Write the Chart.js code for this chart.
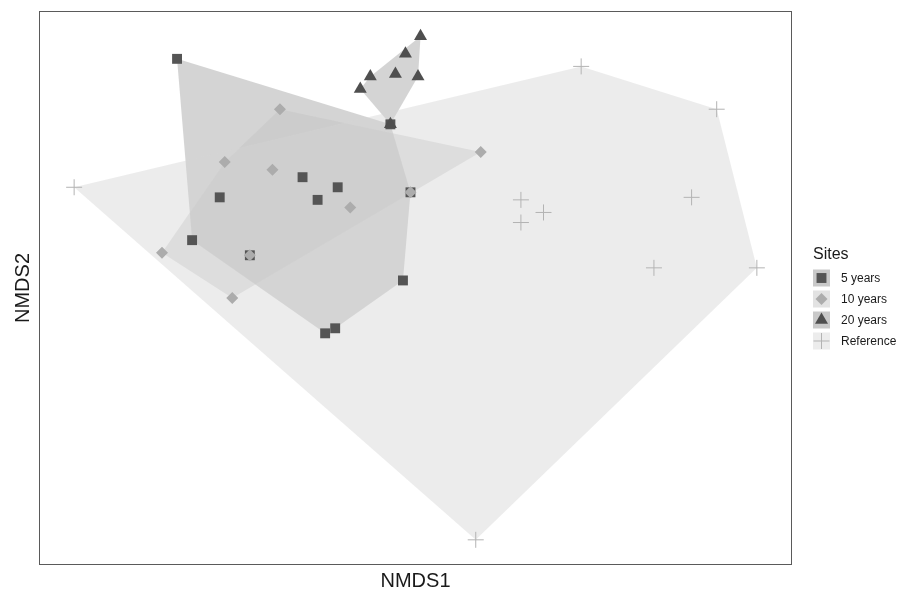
<!DOCTYPE html>
<html>
<head>
<meta charset="utf-8">
<script src="https://cdn.jsdelivr.net/npm/chart.js@4.4.1/dist/chart.umd.min.js"></script>
<style>
  html, body { margin: 0; padding: 0; background: #fff; }
  #wrap { width: 898px; height: 591px; position: relative; }
</style>
</head>
<body>
<div id="wrap"><canvas id="nmds"></canvas></div>
<script>
/* NMDS ordination of sites — points + convex hulls per group */

const siteGroups = ["5 years", "10 years", "20 years", "Reference"];

// NMDS1 / NMDS2 scores
const years5X = [-0.95, -0.78, -0.89, -0.45, -0.39, -0.31, -0.05, -0.36, -0.32, -0.66, -0.02, -0.10];
const years5Y = [0.81, 0.26, 0.09, 0.34, 0.25, 0.30, -0.07, -0.28, -0.26, 0.03, 0.28, 0.55];

const years10X = [-0.54, -0.76, -0.57, -0.26, 0.26, -1.01, -0.73, -0.66, -0.02];
const years10Y = [0.61, 0.40, 0.37, 0.22, 0.44, 0.04, -0.14, 0.03, 0.28];

const years20X = [0.02, -0.04, -0.18, -0.08, 0.01, -0.22, -0.10];
const years20Y = [0.90, 0.83, 0.74, 0.75, 0.74, 0.69, 0.55];

const referenceX = [0.42, 0.51, 0.42, 1.10, 0.95, 1.36, 0.66, 1.20, -1.36, 0.24];
const referenceY = [0.25, 0.20, 0.16, 0.26, -0.02, -0.02, 0.78, 0.61, 0.30, -1.10];

const xRange = [-1.5, 1.5];
const yRange = [-1.2, 1.0];

/* ---- styles per group ---- */
const groupStyle = {
  "5 years":   { pointStyle: "rect",     radius: 7,   color: "#555555", border: 0, hull: "rgba(160,160,160,0.45)", key: "#c9c9c9" },
  "10 years":  { pointStyle: "rectRot",  radius: 6,   color: "#acacac", border: 0, hull: "rgba(195,195,195,0.45)", key: "#e2e2e2" },
  "20 years":  { pointStyle: "triangle", radius: 7.5, color: "#4f4f4f", border: 0, hull: "rgba(160,160,160,0.45)", key: "#c9c9c9" },
  "Reference": { pointStyle: "cross",    radius: 8,   color: "#b3b3b3", border: 1, hull: "rgba(212,212,212,0.45)", key: "#ececec" },
};

function toPoints(xs, ys) {
  return xs.map((x, i) => ({ x, y: ys[i] }));
}

// monotone chain convex hull, returned closed
function convexHull(pts) {
  const p = pts.slice().sort((a, b) => a.x - b.x || a.y - b.y);
  const cross = (o, a, b) => (a.x - o.x) * (b.y - o.y) - (a.y - o.y) * (b.x - o.x);
  const lower = [];
  for (const q of p) {
    while (lower.length >= 2 && cross(lower[lower.length - 2], lower[lower.length - 1], q) <= 0) lower.pop();
    lower.push(q);
  }
  const upper = [];
  for (let i = p.length - 1; i >= 0; i--) {
    const q = p[i];
    while (upper.length >= 2 && cross(upper[upper.length - 2], upper[upper.length - 1], q) <= 0) upper.pop();
    upper.push(q);
  }
  const hull = lower.slice(0, -1).concat(upper.slice(0, -1));
  hull.push(hull[0]);
  return hull;
}

const groupPoints = {
  "5 years": toPoints(years5X, years5Y),
  "10 years": toPoints(years10X, years10Y),
  "20 years": toPoints(years20X, years20Y),
  "Reference": toPoints(referenceX, referenceY),
};

const datasets = [];

// hulls first (drawn underneath)
siteGroups.slice().reverse().forEach((g, i) => {
  datasets.push({
    type: "line",
    label: g + " hull",
    data: convexHull(groupPoints[g]),
    borderWidth: 0,
    borderColor: "rgba(0,0,0,0)",
    backgroundColor: groupStyle[g].hull,
    fill: "shape",
    pointRadius: 0,
    pointHoverRadius: 0,
    tension: 0,
    order: 20 + i,
  });
});

// points: later groups sit on top
siteGroups.forEach((g, i) => {
  const s = groupStyle[g];
  datasets.push({
    type: "scatter",
    label: g,
    data: groupPoints[g],
    pointStyle: s.pointStyle,
    pointRadius: s.radius,
    pointHoverRadius: s.radius,
    backgroundColor: s.color,
    borderColor: s.color,
    borderWidth: s.border,
    order: 10 - i,
  });
});

/* ---- frame, axis titles and legend ---- */
const decorPlugin = {
  id: "decor",
  afterDraw(chart) {
    const { ctx, chartArea: a } = chart;
    ctx.save();

    // panel border
    ctx.strokeStyle = "#5a5a5a";
    ctx.lineWidth = 1;
    ctx.strokeRect(a.left + 0.5, a.top + 0.5, a.right - a.left - 1, a.bottom - a.top - 1);

    // axis titles
    ctx.fillStyle = "#1a1a1a";
    ctx.font = "20px 'Liberation Sans', Arial, sans-serif";
    ctx.textAlign = "center";
    ctx.textBaseline = "alphabetic";
    ctx.fillText("NMDS1", (a.left + a.right) / 2, 587);

    ctx.save();
    ctx.translate(29, (a.top + a.bottom) / 2);
    ctx.rotate(-Math.PI / 2);
    ctx.fillText("NMDS2", 0, 0);
    ctx.restore();

    // legend
    ctx.textAlign = "left";
    ctx.font = "16px 'Liberation Sans', Arial, sans-serif";
    ctx.fillText("Sites", 813, 259);

    ctx.font = "12px 'Liberation Sans', Arial, sans-serif";
    ctx.textBaseline = "middle";
    siteGroups.forEach((g, i) => {
      const s = groupStyle[g];
      const cy = 278 + i * 21;
      ctx.fillStyle = s.key;
      ctx.fillRect(813, cy - 8.5, 17, 17);

      ctx.fillStyle = s.color;
      ctx.strokeStyle = s.color;
      ctx.lineWidth = s.border;
      Chart.helpers.drawPoint(ctx, {
        pointStyle: s.pointStyle,
        radius: s.radius,
        rotation: 0,
        borderWidth: s.border,
      }, 821.5, cy);

      ctx.fillStyle = "#1a1a1a";
      ctx.fillText(g, 841, cy + 1);
    });

    ctx.restore();
  },
};

new Chart(document.getElementById("nmds"), {
  type: "scatter",
  data: { datasets },
  options: {
    responsive: true,
    maintainAspectRatio: false,
    animation: false,
    layout: { padding: { left: 39, top: 11, right: 106, bottom: 26 } },
    scales: {
      x: { type: "linear", display: false, min: xRange[0], max: xRange[1] },
      y: { type: "linear", display: false, min: yRange[0], max: yRange[1] },
    },
    plugins: {
      legend: { display: false },
      tooltip: { enabled: false },
    },
  },
  plugins: [decorPlugin],
});
</script>
</body>
</html>
